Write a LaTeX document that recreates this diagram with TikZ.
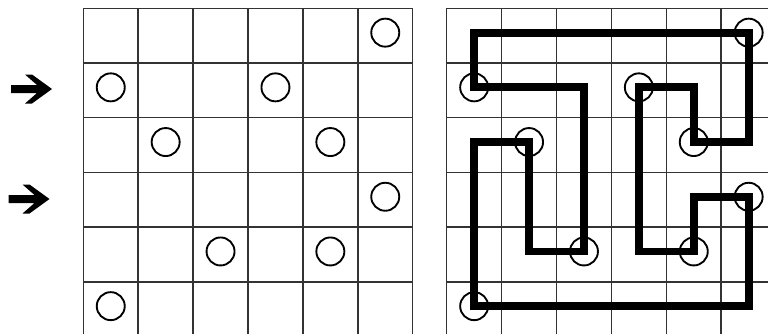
\documentclass[tikz,border=0pt]{standalone}
\begin{document}
\begin{tikzpicture}[x=0.03cm,y=-0.03cm,
  gridline/.style={line width=1.3pt, draw=black!80, line cap=rect},
  stone/.style={line width=1.6pt, draw=black},
  loopline/.style={line width=6.6pt, draw=black, line join=miter},
  pointer/.style={fill=black}]
\useasboundingbox (0,0) rectangle (768,333);
\begin{scope}
\clip (0,0) rectangle (768,333);
% left grid
\foreach \i in {0,...,6} \draw[gridline] ({83.3+54.9*\i},8.3) -- ({83.3+54.9*\i},345);
\foreach \j in {0,...,5} \draw[gridline] (83.3,{8.3+54.7*\j}) -- (412.7,{8.3+54.7*\j});
% right grid
\foreach \i in {0,...,6} \draw[gridline] ({446.7+54.9*\i},8.3) -- ({446.7+54.9*\i},345);
\foreach \j in {0,...,5} \draw[gridline] (446.7,{8.3+54.7*\j}) -- (790,{8.3+54.7*\j});
\end{scope}
% cell centres
\foreach \c in {0,...,5} \foreach \r in {0,...,5} {
  \coordinate (L\c\r) at ({83.3+54.9*(\c+0.5)},{8.3+54.7*(\r+0.5)-3});
  \coordinate (R\c\r) at ({446.7+54.9*(\c+0.5)},{8.3+54.7*(\r+0.5)-3});
}
% circles
\foreach \c/\r in {5/0,0/1,3/1,1/2,4/2,5/3,2/4,4/4,0/5} {
  \draw[stone] (L\c\r) circle[radius=0.42cm];
  \draw[stone] (R\c\r) circle[radius=0.42cm];
}
% loop
\draw[loopline] (R00) -- (R50) -- (R52) -- (R42) -- (R41) -- (R31) -- (R34) -- (R44)
  -- (R43) -- (R53) -- (R55) -- (R05) -- (R02) -- (R12) -- (R14) -- (R24) -- (R21)
  -- (R01) -- cycle;
% arrows
\foreach \dx/\dy in {0/0,-2.5/110} {
  \begin{scope}[shift={(\dx,\dy)}]
  \fill[pointer] (11,85) -- (37,85) -- (25,74.5) -- (32,74.5) -- (52,89) -- (32,103.5)
    -- (25,103.5) -- (37,93) -- (11,93) -- cycle;
  \end{scope}
}
\end{tikzpicture}
\end{document}
